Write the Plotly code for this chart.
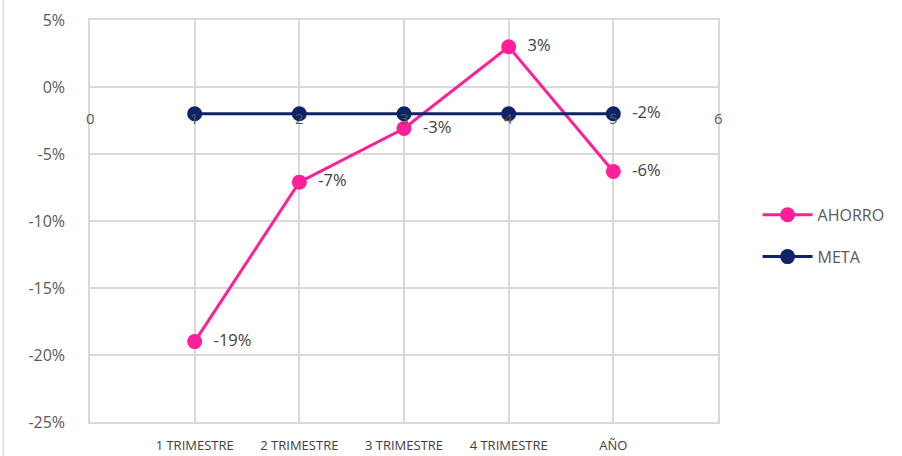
import plotly.graph_objects as go

x_pos = [1, 2, 3, 4, 5]
categories = ["1 TRIMESTRE", "2 TRIMESTRE", "3 TRIMESTRE", "4 TRIMESTRE", "AÑO"]
ahorro = [-0.19, -0.071, -0.031, 0.03, -0.063]
meta = [-0.02, -0.02, -0.02, -0.02, -0.02]
num_ticks = [0, 1, 2, 3, 4, 5, 6]
y_ticks = [0.05, 0, -0.05, -0.10, -0.15, -0.20, -0.25]
y_labels = ["5%", "0%", "-5%", "-10%", "-15%", "-20%", "-25%"]

PINK = "#FF1F99"
NAVY = "#0E2466"
GRID = "#D9D9D9"
TXT = "#595959"
FONT = "Open Sans"


def pct(v):
    # Excel-style labels use a plain hyphen, padded away from the marker
    return "  " + f"{round(v * 100):d}%"


fig = go.Figure()
fig.add_trace(go.Scatter(
    x=x_pos, y=ahorro, name="AHORRO", mode="lines+markers+text",
    line=dict(color=PINK, width=3), marker=dict(color=PINK, size=15),
    text=[pct(v) for v in ahorro], textposition="middle right",
    textfont=dict(size=16.5, color="#404040", family=FONT),
    legendgroup="a", cliponaxis=False,
))
fig.add_trace(go.Scatter(
    x=x_pos, y=meta, name="META", mode="lines+markers+text",
    line=dict(color=NAVY, width=3), marker=dict(color=NAVY, size=15),
    text=["" for _ in meta[:-1]] + [pct(meta[-1])], textposition="middle right",
    textfont=dict(size=16.5, color="#404040", family=FONT),
    legendgroup="b", cliponaxis=False,
))

# numeric x-axis labels drawn where the axis crosses (Excel style)
for n in num_ticks:
    fig.add_annotation(x=n, y=-0.023, text=str(n), showarrow=False,
                       font=dict(size=15, color=TXT, family=FONT))

# chart-area border on the left
fig.add_shape(type="line", xref="paper", yref="paper", x0=-0.138, x1=-0.138,
              y0=-0.1, y1=1.1, line=dict(color=GRID, width=1.5))

fig.update_layout(
    width=902, height=456,
    margin=dict(l=90, r=182, t=20, b=34),
    paper_bgcolor="white", plot_bgcolor="white",
    font=dict(family=FONT, color=TXT),
    xaxis=dict(range=[0, 6], tickvals=x_pos, ticktext=categories,
               tickfont=dict(size=13, color="#404040", family=FONT),
               ticks="outside", ticklen=11, tickcolor="white",
               showgrid=True, gridcolor=GRID, gridwidth=1.5,
               showline=True, linecolor=GRID, linewidth=1.5, mirror=True,
               zeroline=False, automargin=False),
    yaxis=dict(range=[-0.25, 0.05], tickvals=y_ticks, ticktext=y_labels,
               tickfont=dict(size=16, color=TXT, family=FONT),
               ticks="outside", ticklen=20, tickcolor="white",
               showgrid=True, gridcolor=GRID, gridwidth=1.5,
               showline=True, linecolor=GRID, linewidth=1.5, mirror=True,
               zeroline=False, automargin=False),
    legend=dict(x=1.063, y=0.463, xanchor="left", yanchor="middle",
                traceorder="grouped", tracegroupgap=18, itemwidth=50,
                font=dict(size=16, color=TXT, family=FONT)),
)

fig.write_html("out.html", config={"displayModeBar": False},
               post_script="document.body.style.margin='0';")
